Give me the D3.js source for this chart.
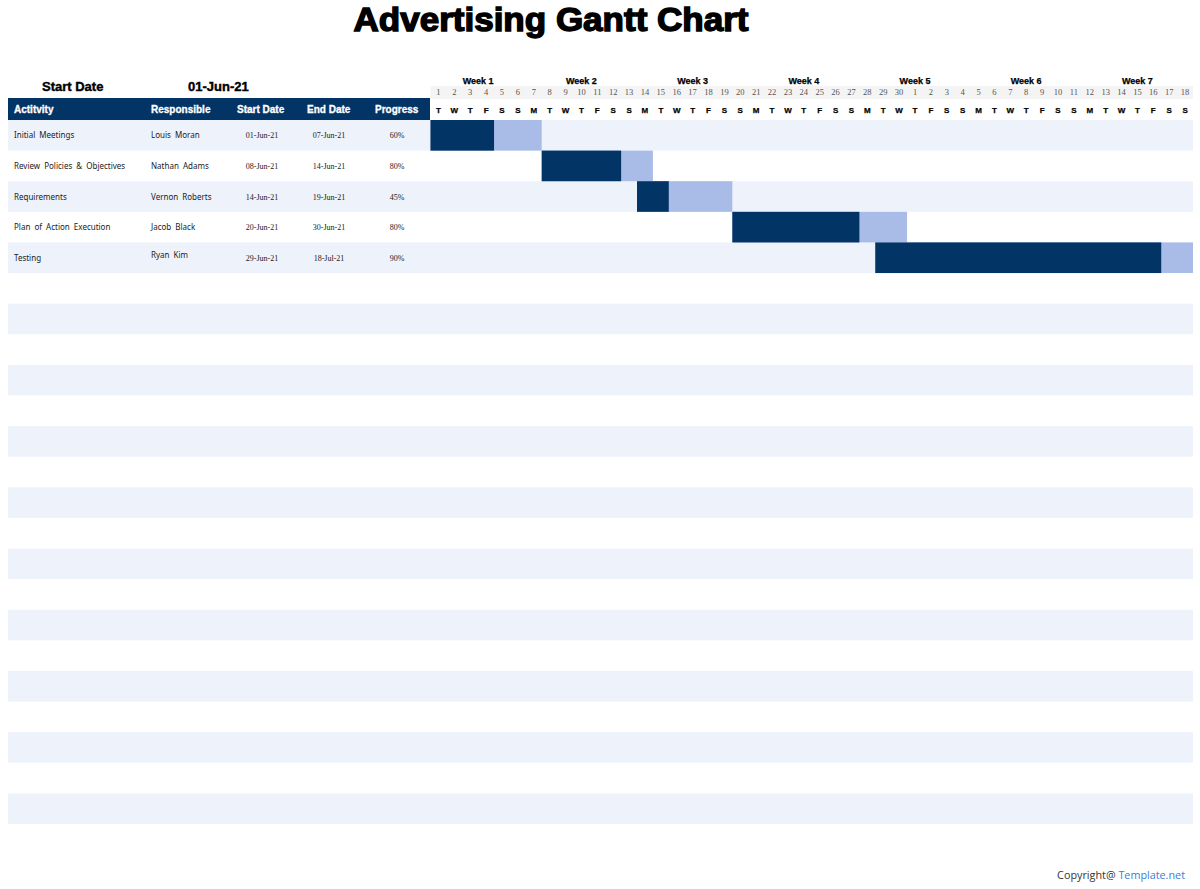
<!DOCTYPE html>
<html>
<head>
<meta charset="utf-8">
<script src="https://cdn.jsdelivr.net/npm/d3@7"></script>
<style>
  body { margin: 0; background: #fff; }
  svg { display: block; }
</style>
</head>
<body>
<div id="chart"></div>
<script>
// chart data
var projectStart = "01-Jun-21";
var activities = ["Initial Meetings", "Review Policies & Objectives", "Requirements", "Plan of Action Execution", "Testing"];
var responsible = ["Louis Moran", "Nathan Adams", "Vernon Roberts", "Jacob Black", "Ryan Kim"];
var startDates = ["01-Jun-21", "08-Jun-21", "14-Jun-21", "20-Jun-21", "29-Jun-21"];
var endDates = ["07-Jun-21", "14-Jun-21", "19-Jun-21", "30-Jun-21", "18-Jul-21"];
var progress = [60, 80, 45, 80, 90];
var weekLabels = ["Week 1", "Week 2", "Week 3", "Week 4", "Week 5", "Week 6", "Week 7"];
var weekCenterDay = [3.5, 10, 17, 24, 31, 38, 45]; // day number (from start) the label sits over
var headers = ["Actitvity", "Responsible", "Start Date", "End Date", "Progress"];
var totalRows = 23;

var W = 1200, H = 889;
var parse = d3.timeParse("%d-%b-%y");
var dayNames = ["S", "M", "T", "W", "T", "F", "S"];

var svg = d3.select("#chart").append("svg")
  .attr("width", W)
  .attr("height", H);

var t0 = parse(projectStart);
var t1 = d3.timeDay.offset(parse(endDates[endDates.length - 1]), 1);
var days = d3.timeDay.range(t0, t1);

// scales
var x = d3.scaleTime().domain([t0, t1]).range([430.5, 1193]);
var dayW = x(days[1]) - x(days[0]);
var y = d3.scaleBand().domain(d3.range(totalRows)).range([120, 824]);

var navy = "#033466", light = "#a9bce8", stripe = "#eef2fb";
var heavy = "'Liberation Sans', Arial, sans-serif";

// title
svg.append("text")
  .attr("x", 551).attr("y", 31)
  .attr("text-anchor", "middle")
  .style("font-family", heavy)
  .style("font-weight", "900")
  .style("font-size", "33px")
  .attr("stroke", "#000").attr("stroke-width", 1.4)
  .attr("textLength", 395)
  .attr("lengthAdjust", "spacingAndGlyphs")
  .text("Advertising Gantt Chart");

svg.append("text").attr("x", 42).attr("y", 91)
  .style("font-family", heavy)
  .style("font-weight", "bold").style("font-size", "13px")
  .attr("stroke", "#000").attr("stroke-width", 0.4)
  .text("Start Date");
svg.append("text").attr("x", 188).attr("y", 91)
  .style("font-family", heavy)
  .style("font-weight", "bold").style("font-size", "13px")
  .attr("stroke", "#000").attr("stroke-width", 0.4)
  .text(projectStart);

// row stripes
svg.append("g").selectAll("rect")
  .data(d3.range(totalRows).filter(function (i) { return i % 2 === 0; }))
  .enter().append("rect")
  .attr("x", 8).attr("width", 1185)
  .attr("y", function (d) { return y(d); })
  .attr("height", y.bandwidth())
  .attr("fill", stripe);

// header bar
svg.append("rect").attr("x", 8).attr("y", 98).attr("width", 422).attr("height", 22).attr("fill", navy);
var colX = [14, 151, 237, 307, 375];
svg.append("g").selectAll("text")
  .data(headers)
  .enter().append("text")
  .attr("x", function (d, i) { return colX[i]; })
  .attr("y", 113)
  .attr("fill", "#fff")
  .attr("stroke", "#fff").attr("stroke-width", 0.3)
  .style("font-family", heavy)
  .style("font-weight", "bold").style("font-size", "10px")
  .text(function (d) { return d; });

// timeline header
svg.append("rect").attr("x", x(t0)).attr("y", 86).attr("width", x(t1) - x(t0)).attr("height", 13).attr("fill", "#f4f4f4");

svg.append("g").selectAll("text")
  .data(weekLabels)
  .enter().append("text")
  .attr("x", function (d, i) { return x(t0) + (weekCenterDay[i] - 0.5) * dayW; })
  .attr("y", 84)
  .attr("text-anchor", "middle")
  .attr("stroke", "#000").attr("stroke-width", 0.25)
  .style("font-family", heavy)
  .style("font-weight", "bold").style("font-size", "9px")
  .text(function (d) { return d; });

svg.append("g").selectAll("text")
  .data(days)
  .enter().append("text")
  .attr("x", function (d) { return x(d) + dayW / 2; })
  .attr("y", 95)
  .attr("text-anchor", "middle")
  .attr("fill", "#555")
  .style("font-family", "'Liberation Serif', 'Times New Roman', serif")
  .style("font-size", "8.5px")
  .text(function (d) { return d.getDate(); });

svg.append("g").selectAll("text")
  .data(days)
  .enter().append("text")
  .attr("x", function (d) { return x(d) + dayW / 2; })
  .attr("y", 113)
  .attr("text-anchor", "middle")
  .attr("stroke", "#000").attr("stroke-width", 0.25)
  .style("font-family", heavy)
  .style("font-weight", "bold").style("font-size", "8px")
  .text(function (d) { return dayNames[d.getDay()]; });

// task table text
var sans = "'Noto Sans', 'DejaVu Sans', sans-serif";
var serif = "'Liberation Serif', 'Times New Roman', serif";
var rowsG = svg.append("g").selectAll("g")
  .data(activities)
  .enter().append("g")
  .attr("transform", function (d, i) { return "translate(0," + (y(i) + y.bandwidth() / 2 + 3) + ")"; });

rowsG.append("text").attr("x", 14)
  .style("font-family", sans).style("font-size", "8px").attr("fill", "#222")
  .attr("word-spacing", "2px")
  .text(function (d) { return d; });
rowsG.append("text").attr("x", 151)
  .attr("dy", function (d, i) { return i === 4 ? -3 : 0; })
  .style("font-family", sans).style("font-size", "8px").attr("fill", "#222")
  .attr("word-spacing", "2px")
  .text(function (d, i) { return responsible[i]; });
rowsG.append("text").attr("x", 262).attr("text-anchor", "middle")
  .style("font-family", serif).style("font-size", "8px").attr("fill", "#222")
  .text(function (d, i) { return startDates[i]; });
rowsG.append("text").attr("x", 329).attr("text-anchor", "middle")
  .style("font-family", serif).style("font-size", "8px").attr("fill", "#222")
  .text(function (d, i) { return endDates[i]; });
rowsG.append("text").attr("x", 397).attr("text-anchor", "middle")
  .style("font-family", serif).style("font-size", "8px").attr("fill", "#222")
  .text(function (d, i) { return progress[i] + "%"; });

// gantt bars: full span in light, completed days in navy
var tasks = activities.map(function (a, i) {
  var s = parse(startDates[i]);
  var e = d3.timeDay.offset(parse(endDates[i]), 1);
  var dur = d3.timeDay.count(s, e);
  var done = Math.floor(dur * progress[i] / 100);
  return { i: i, s: s, e: e, m: d3.timeDay.offset(s, done) };
});

var bars = svg.append("g");
bars.selectAll(".rest")
  .data(tasks)
  .enter().append("rect")
  .attr("class", "rest")
  .attr("x", function (d) { return x(d.s); })
  .attr("width", function (d) { return x(d.e) - x(d.s); })
  .attr("y", function (d) { return y(d.i); })
  .attr("height", y.bandwidth())
  .attr("fill", light);
bars.selectAll(".done")
  .data(tasks)
  .enter().append("rect")
  .attr("class", "done")
  .attr("x", function (d) { return x(d.s); })
  .attr("width", function (d) { return x(d.m) - x(d.s); })
  .attr("y", function (d) { return y(d.i); })
  .attr("height", y.bandwidth())
  .attr("fill", navy);

// footer
var foot = svg.append("text")
  .attr("x", 1185).attr("y", 879)
  .attr("text-anchor", "end")
  .style("font-family", "'Open Sans', sans-serif")
  .style("font-size", "10.8px");
foot.append("tspan").attr("fill", "#333").text("Copyright@ ");
foot.append("tspan").attr("fill", "#3b7dd8").text("Template.net");
</script>
</body>
</html>
